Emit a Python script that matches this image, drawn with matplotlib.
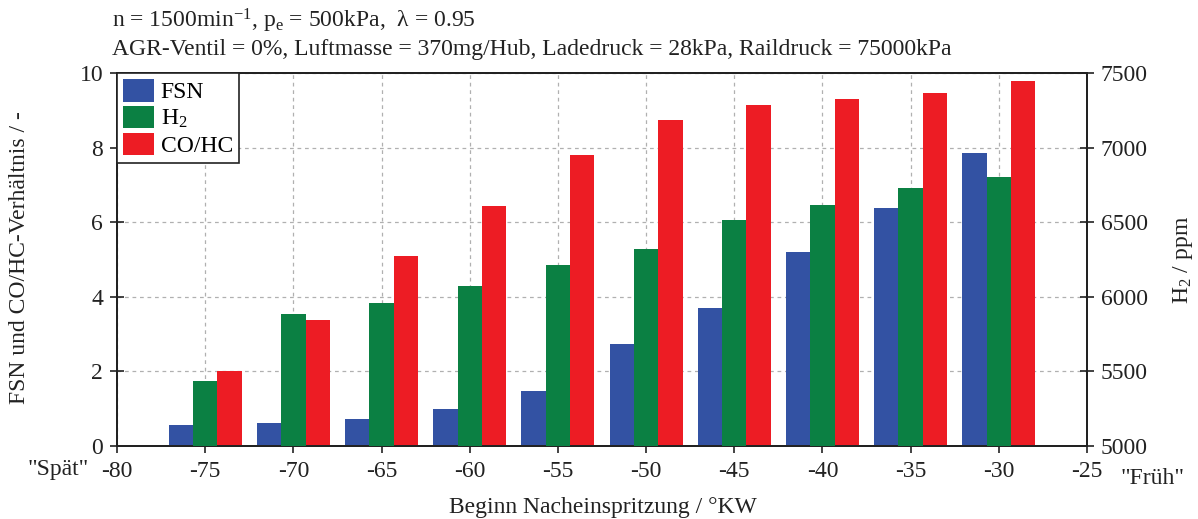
import matplotlib
matplotlib.use("Agg")
import matplotlib.pyplot as plt
import numpy as np
from matplotlib.patches import Patch

plt.rcParams['font.family'] = ['Liberation Serif', 'DejaVu Serif']
plt.rcParams['mathtext.fontset'] = 'custom'
plt.rcParams['mathtext.rm'] = 'Liberation Serif'
plt.rcParams['mathtext.it'] = 'Liberation Serif:italic'
plt.rcParams['mathtext.default'] = 'rm'
plt.rcParams['axes.unicode_minus'] = False

# Data
positions = [-75, -70, -65, -60, -55, -50, -45, -40, -35, -30]
fsn = [0.56, 0.62, 0.72, 0.99, 1.47, 2.73, 3.70, 5.20, 6.38, 7.86]
h2_ppm = [5436, 5885, 5958, 6072, 6213, 6320, 6515, 6615, 6729, 6803]
co_hc = [2.01, 3.38, 5.09, 6.43, 7.80, 8.74, 9.14, 9.30, 9.46, 9.79]
xticks = [-80, -75, -70, -65, -60, -55, -50, -45, -40, -35, -30, -25]
yticks_left = [0, 2, 4, 6, 8, 10]
yticks_right = [5000, 5500, 6000, 6500, 7000, 7500]

c_blue = '#3352a3'
c_green = '#0b8043'
c_red = '#ed1c24'
tc = '#222222'

fig = plt.figure(figsize=(11.98, 5.19), dpi=100)
ax = fig.add_axes([117/1198, 1-446/519, (1087-117)/1198, (446-73)/519])
ax2 = ax.twinx()

x = np.array(positions, dtype=float)
w = 1.38
ax.bar(x - w, fsn, width=w, color=c_blue, zorder=3)
ax.bar(x + w, co_hc, width=w, color=c_red, zorder=3)
ax2.bar(x, h2_ppm, width=w, color=c_green, zorder=3, bottom=0)

ax.set_xlim(-80, -25)
ax.set_ylim(0, 10)
ax2.set_ylim(5000, 7500)
ax.set_xticks(xticks)
ax.set_yticks(yticks_left)
ax2.set_yticks(yticks_right)

ax.grid(True, linestyle=(0, (3, 3)), color='#b0b0b0', linewidth=0.9, zorder=0)
ax.set_axisbelow(True)

fs = 17
ax.tick_params(axis='both', direction='inout', length=10, width=1.2, labelsize=fs, colors=tc)
ax.tick_params(axis='y', pad=5)
ax2.tick_params(axis='y', direction='inout', length=10, width=1.2, labelsize=fs, colors=tc, pad=5)
ax.tick_params(axis='x', pad=6)
for a in (ax, ax2):
    for s in a.spines.values():
        s.set_linewidth(1.4)
        s.set_color(tc)

fig.text(20/1198, 1-258/519, 'FSN und CO/HC-Verhältnis / -', rotation=90, ha='center', va='center',
         fontsize=fs, color=tc)
fig.text(1183/1198, 1-260/519, 'H$_2$ / ppm', rotation=90, ha='center', va='center',
         fontsize=fs, color=tc)
fig.text(603/1198, 1-508/519, 'Beginn Nacheinspritzung / °KW', ha='center', va='center', fontsize=fs, color=tc)
fig.text(58/1198, 1-470/519, '"Spät"', ha='center', va='center', fontsize=fs, color=tc)
fig.text(1153/1198, 1-478/519, '"Früh"', ha='center', va='center', fontsize=fs, color=tc)

fig.text(112/1198, 1-21/519, 'n = 1500min$^{-1}$, p$_\\mathrm{e}$ = 500kPa,  λ = 0.95',
         ha='left', va='center', fontsize=fs, color=tc)
fig.text(112/1198, 1-50/519, 'AGR-Ventil = 0%, Luftmasse = 370mg/Hub, Ladedruck = 28kPa, Raildruck = 75000kPa',
         ha='left', va='center', fontsize=fs, color=tc)

handles = [Patch(facecolor=c_blue, label='FSN'),
           Patch(facecolor=c_green, label='H$_2$'),
           Patch(facecolor=c_red, label='CO/HC')]
leg = ax2.legend(handles=handles, loc='upper left', fontsize=fs, frameon=True, fancybox=False,
                 edgecolor=tc, framealpha=1, borderaxespad=0.0, handlelength=1.3,
                 handleheight=1.1, handletextpad=0.3, labelspacing=0.1, borderpad=0.25)
leg.get_frame().set_linewidth(1.2)

fig.savefig('out.png', dpi=100)
